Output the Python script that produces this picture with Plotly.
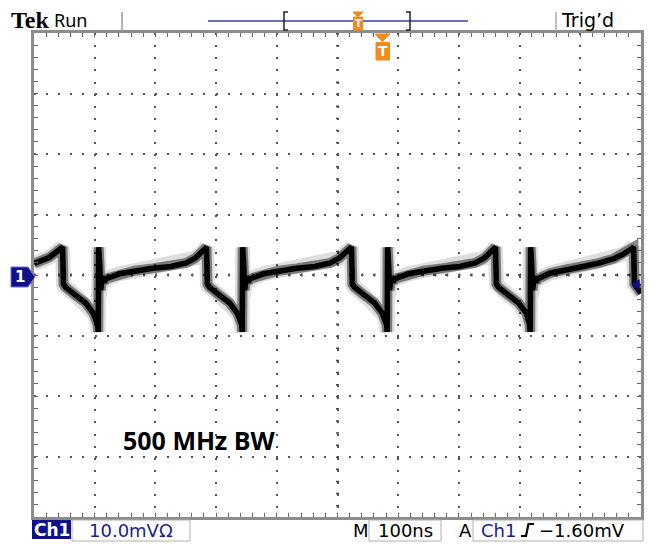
import plotly.graph_objects as go

time_ns = [
    0, 12, 25, 37, 47,
    48.5, 51.8, 67.8, 84.8, 97.8, 102.8, 104.8, 105.8, 106.6, 107.4, 108.3, 109.8, 112.8, 115.8, 118.8,
    140.8, 165.8, 195.8, 225.8, 250.8, 265.8, 277.8, 284.2,
    285.7, 289.0, 305.0, 322.0, 335.0, 340.0, 342.0, 343.0, 343.8, 344.6, 345.5, 347.0, 350.0, 353.0, 356.0,
    378.0, 403.0, 433.0, 463.0, 488.0, 503.0, 515.0, 523.0,
    524.5, 527.8, 543.8, 560.8, 573.8, 578.8, 580.8, 581.8, 582.6, 583.4, 584.3, 585.8, 588.8, 591.8, 594.8,
    616.8, 641.8, 671.8, 701.8, 726.8, 741.8, 753.8, 760.3,
    761.8, 765.1, 781.1, 798.1, 811.1, 815.1, 816.6, 817.4, 818.2, 819.0, 819.9, 821.4, 824.4, 827.4, 830.4,
    850, 875, 905, 932, 955, 970, 981, 987.8,
    989.2, 992.5, 1000,
]
volt_mV = [
    1.9, 2.3, 2.9, 3.8, 4.6,
    -1.5, -2.0, -3.3, -4.6, -6.3, -7.4, -8.2, -9.4, 4.6, -3.5, 1.5, -2.5, -0.2, -1.2, -0.6,
    0.2, 0.7, 1.1, 1.4, 2.0, 2.8, 3.8, 4.6,
    -1.5, -2.0, -3.3, -4.6, -6.3, -7.4, -8.2, -9.4, 4.6, -3.5, 1.5, -2.5, -0.2, -1.2, -0.6,
    0.2, 0.7, 1.1, 1.4, 2.0, 2.8, 3.8, 4.6,
    -1.5, -2.0, -3.3, -4.6, -6.3, -7.4, -8.2, -9.4, 4.6, -3.5, 1.5, -2.5, -0.2, -1.2, -0.6,
    0.2, 0.7, 1.1, 1.4, 2.0, 2.8, 3.8, 4.6,
    -1.5, -2.0, -3.3, -4.6, -6.3, -7.4, -8.2, -9.4, 4.6, -3.5, 1.5, -2.5, -0.2, -1.2, -0.6,
    0.3, 0.9, 1.4, 2.0, 2.7, 3.4, 4.1, 4.6,
    -1.5, -2.0, -3.0,
]

x_range = [0, 1000]     # 10 div x 100 ns
y_range = [-40, 40]     # 8 div x 10 mV
trig_level_mV = -1.60

# ---------------- geometry helpers (pixel -> paper) ----------------
W, H = 657, 546
L, R, T, B = 34, 16, 33, 29
PW, PH = W - L - R, H - T - B


def px(x):
    return (x - L) / PW


def py(y):
    return (H - B - y) / PH


def P(x, y):
    return f"{px(x):.5f},{py(y):.5f}"


def path(points, close=True):
    s = "M " + " L ".join(P(x, y) for x, y in points)
    return s + (" Z" if close else "")


fig = go.Figure()
fig.add_trace(go.Scatter(x=time_ns, y=volt_mV, mode="lines",
                         line=dict(color="rgba(0,0,0,0.13)", width=15),
                         hoverinfo="skip"))
fig.add_trace(go.Scatter(x=time_ns, y=volt_mV, mode="lines",
                         line=dict(color="rgba(0,0,0,0.45)", width=10),
                         hoverinfo="skip"))
fig.add_trace(go.Scatter(x=time_ns, y=volt_mV, mode="lines",
                         line=dict(color="#000000", width=5.5)))

shapes = []
annotations = []

NAVY = "#10108a"
ORANGE = "#f28a1e"

# centre cross lines with small ticks
shapes.append(dict(type="line", xref="x", yref="y", x0=0, x1=1000, y0=0, y1=0,
                   line=dict(color="#444", width=3, dash="1.5px,10.64px"), layer="below"))
shapes.append(dict(type="line", xref="x", yref="y", x0=500, x1=500, y0=40, y1=-40,
                   line=dict(color="#444", width=3, dash="1.5px,10.6px"), layer="below"))

# top bar
shapes.append(dict(type="line", xref="paper", yref="paper", x0=px(122), x1=px(122), y0=py(12), y1=py(32),
                   line=dict(color="#999", width=1.5)))
shapes.append(dict(type="line", xref="paper", yref="paper", x0=px(556), x1=px(556), y0=py(12), y1=py(31),
                   line=dict(color="#aaa", width=1.5)))
shapes.append(dict(type="line", xref="paper", yref="paper", x0=px(208), x1=px(468), y0=py(21), y1=py(21),
                   line=dict(color="#3c3ca8", width=1.5)))
shapes.append(dict(type="path", xref="paper", yref="paper",
                   path=path([(288, 12), (284, 12), (284, 30), (288, 30)], close=False),
                   line=dict(color="#222", width=1.5)))
shapes.append(dict(type="path", xref="paper", yref="paper",
                   path=path([(406, 12), (410, 12), (410, 30), (406, 30)], close=False),
                   line=dict(color="#222", width=1.5)))
# small T marker in record view
shapes.append(dict(type="path", xref="paper", yref="paper",
                   path=path([(353, 12), (363, 12), (358, 17)]),
                   fillcolor=ORANGE, line=dict(color=ORANGE, width=1)))
shapes.append(dict(type="rect", xref="paper", yref="paper", x0=px(353.5), x1=px(362.5), y0=py(17), y1=py(30),
                   fillcolor=ORANGE, line=dict(color=ORANGE, width=1)))
annotations.append(dict(x=px(358), y=py(23.5), xref="paper", yref="paper", text="<b>T</b>",
                        showarrow=False, font=dict(family="DejaVu Sans", size=10, color="white"),
                        xanchor="center", yanchor="middle"))
# big T trigger-position marker
shapes.append(dict(type="path", xref="paper", yref="paper",
                   path=path([(375, 34), (390, 34), (382.5, 41.5)]),
                   fillcolor=ORANGE, line=dict(color=ORANGE, width=1)))
shapes.append(dict(type="rect", xref="paper", yref="paper", x0=px(376), x1=px(389.5), y0=py(42.5), y1=py(60),
                   fillcolor=ORANGE, line=dict(color=ORANGE, width=1)))
annotations.append(dict(x=px(382.8), y=py(51.5), xref="paper", yref="paper", text="<b>T</b>",
                        showarrow=False, font=dict(family="DejaVu Sans", size=14, color="white"),
                        xanchor="center", yanchor="middle"))

annotations.append(dict(x=px(9), y=py(20), xref="paper", yref="paper", text="<b>Tek</b>",
                        showarrow=False, font=dict(family="Liberation Serif", size=24, color="black"),
                        xanchor="left", yanchor="middle"))
annotations.append(dict(x=px(52), y=py(20), xref="paper", yref="paper", text="Run",
                        showarrow=False, font=dict(family="Noto Sans", size=18, color="black"),
                        xanchor="left", yanchor="middle"))
annotations.append(dict(x=px(559), y=py(20), xref="paper", yref="paper", text="Trig’d",
                        showarrow=False, font=dict(family="DejaVu Sans", size=19, color="black"),
                        xanchor="left", yanchor="middle"))

# channel 1 ground marker
shapes.append(dict(type="path", xref="paper", yref="paper",
                   path=path([(11, 267), (28, 267), (35, 277), (28, 287), (11, 287)]),
                   fillcolor=NAVY, line=dict(color="#7070c8", width=1)))
annotations.append(dict(x=px(19.5), y=py(277), xref="paper", yref="paper", text="<b>1</b>",
                        showarrow=False, font=dict(family="DejaVu Sans", size=15, color="white"),
                        xanchor="center", yanchor="middle"))

# trigger level arrow on the right
shapes.append(dict(type="path", xref="x", yref="y",
                   path=f"M 985,{trig_level_mV} L 997,{trig_level_mV + 0.8} L 997,{trig_level_mV - 0.8} Z",
                   fillcolor=NAVY, line=dict(color=NAVY, width=1)))
shapes.append(dict(type="line", xref="x", yref="y", x0=996, x1=1001, y0=trig_level_mV, y1=trig_level_mV,
                   line=dict(color=NAVY, width=1.5)))

# label inside the screen
annotations.append(dict(x=px(121), y=py(440), xref="paper", yref="paper", text="<b>500 MHz BW</b>",
                        showarrow=False, font=dict(family="Open Sans", size=25, color="black"),
                        xanchor="left", yanchor="middle"))

# bottom readout bar
shapes.append(dict(type="rect", xref="paper", yref="paper", x0=px(32), x1=px(71), y0=py(520), y1=py(539),
                   fillcolor=NAVY, line=dict(color=NAVY, width=0)))
annotations.append(dict(x=px(51.5), y=py(529.5), xref="paper", yref="paper", text="<b>Ch1</b>",
                        showarrow=False, font=dict(family="DejaVu Sans", size=17, color="white"),
                        xanchor="center", yanchor="middle"))
for x0, x1 in [(72, 190), (369, 441), (473, 643)]:
    shapes.append(dict(type="rect", xref="paper", yref="paper", x0=px(x0), x1=px(x1), y0=py(520), y1=py(541),
                       fillcolor="rgba(0,0,0,0)", line=dict(color="#b0b0b0", width=1)))
bottom_texts = [
    (87, "10.0mVΩ", "#1c1c8c"),
    (351, "M", "black"),
    (376, "100ns", "black"),
    (457, "A", "black"),
    (479, "Ch1", "#1c1c8c"),
    (537, "−1.60mV", "black"),
]
for x, txt, col in bottom_texts:
    annotations.append(dict(x=px(x), y=py(530), xref="paper", yref="paper", text=txt,
                            showarrow=False, font=dict(family="DejaVu Sans", size=18, color=col),
                            xanchor="left", yanchor="middle"))
# rising-edge slope symbol
shapes.append(dict(type="path", xref="paper", yref="paper",
                   path=path([(521, 536), (526, 536), (528.5, 524), (534, 524)], close=False),
                   line=dict(color="black", width=2.2)))

axis_common = dict(
    showticklabels=False, zeroline=False, showline=True, linecolor="#8c8c8c", linewidth=3,
    mirror="allticks", ticks="inside", ticklen=4, tickcolor="#666", tickwidth=1,
    showgrid=True, gridcolor="#555", gridwidth=2, fixedrange=True,
)
fig.update_layout(
    width=W, height=H,
    margin=dict(l=L, r=R, t=T, b=B, pad=0),
    paper_bgcolor="white", plot_bgcolor="white",
    showlegend=False,
    xaxis=dict(range=x_range, dtick=100, tick0=0, griddash="2px,10.14px",
               minor=dict(dtick=20, ticks="inside", ticklen=4, tickcolor="#666", tickwidth=1, showgrid=False),
               **axis_common),
    yaxis=dict(range=y_range, dtick=10, tick0=0, griddash="2px,10.1px",
               minor=dict(dtick=2, ticks="inside", ticklen=4, tickcolor="#666", tickwidth=1, showgrid=False),
               **axis_common),
    shapes=shapes,
    annotations=annotations,
)

fig.write_html("out.html", config={"displayModeBar": False},
               post_script="document.body.style.margin='0';document.body.style.overflow='hidden';")
